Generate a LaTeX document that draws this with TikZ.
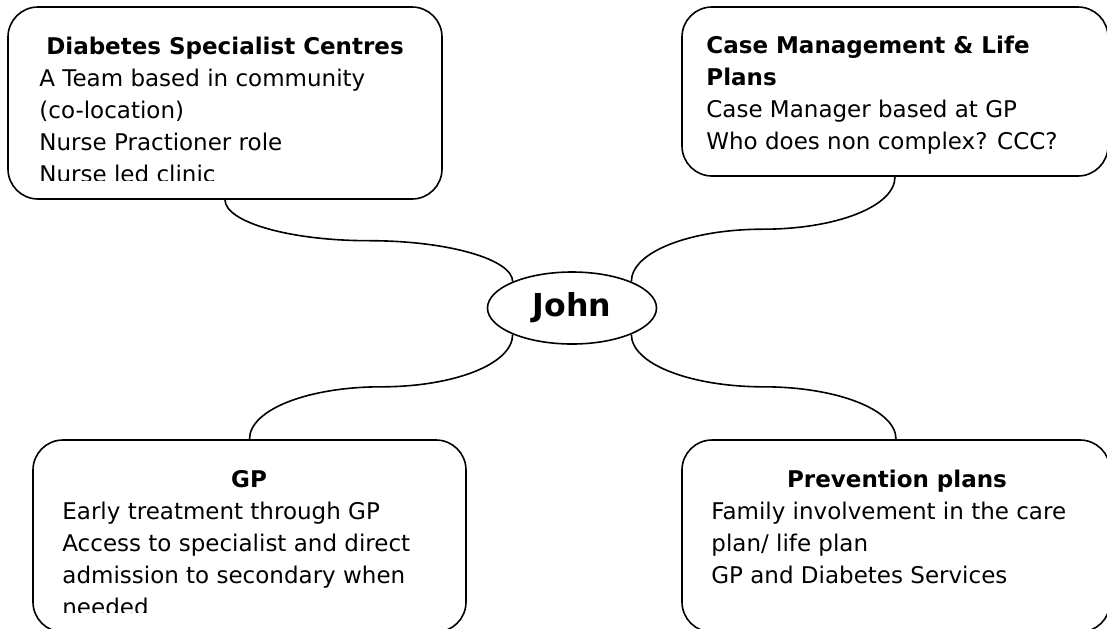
\documentclass[tikz,border=0pt]{standalone}
\usepackage{fontspec}
\setmainfont{DejaVu Sans}
\usetikzlibrary{shapes.geometric,calc}

\begin{document}
\begin{tikzpicture}[
        x=0.5pt, y=-0.5pt,
        boxsty/.style={rectangle,draw,rounded corners=15pt,line width=0.8pt,inner sep=0pt},
        hdsty/.style={font=\fontsize{11.5}{16}\selectfont\bfseries,inner sep=0pt},
        txtsty/.style={font=\fontsize{11.5}{16}\selectfont,align=left,inner sep=0pt,anchor=north west},
        lnsty/.style={line width=0.8pt},
    ]
    \useasboundingbox (0,0) rectangle (1107,628);
    \clip (0,0) rectangle (1107,628);

    % boxes round the middle
    \node (dsc) at (225,103) [boxsty, minimum width=217pt, minimum height=96pt] {};
    \node (cm) at (895,91.5) [boxsty, minimum width=213pt, minimum height=84.5pt] {};
    \node (gp) at (249.5,536) [boxsty, minimum width=216.5pt, minimum height=96pt] {};
    \node (prev) at (896,536) [boxsty, minimum width=214pt, minimum height=96pt] {};
    \node (john) at (572,308) [ellipse, draw, line width=0.8pt, inner sep=0pt,
        minimum width=84.5pt, minimum height=36pt,
        font=\fontsize{15.8}{19}\selectfont\bfseries] {John};

    % box texts
    \node (dsc-hd) at (225,54) [hdsty, anchor=base] {Diabetes Specialist Centres};
    \begin{scope}
        \clip (0,0) rectangle (1107,180);
        \node (dsc-txt) at (39,63.6) [txtsty] {\strut A Team based in community\\(co-location)\\Nurse Practioner role\\Nurse led clinic};
    \end{scope}
    \node (cm-hd) at (706,30.6) [txtsty, font=\fontsize{11.5}{16}\selectfont\bfseries] {\strut Case Management \& Life\\Plans};
    \node (cm-txt) at (706,94.6) [txtsty] {\strut Case Manager based at GP\\Who does non complex? CCC?};
    \node (gp-hd) at (249,487) [hdsty, anchor=base] {GP};
    \begin{scope}
        \clip (0,0) rectangle (1107,612);
        \node (gp-txt) at (62,496.6) [txtsty] {\strut Early treatment through GP\\Access to specialist and direct\\admission to secondary when\\needed};
    \end{scope}
    \node (prev-hd) at (897,487) [hdsty, anchor=base] {Prevention plans};
    \node (prev-txt) at (711,496.6) [txtsty] {\strut Family involvement in the care\\plan/ life plan\\GP and Diabetes Services};

    % curved links to the middle
    \draw[lnsty] (dsc.south)
        to[out=-90,in=180,out distance=11pt,in distance=40pt] ($(dsc.south)!0.5!(john.156)$)
        to[out=0,in=90,out distance=40pt,in distance=11pt] (john.156);
    \draw[lnsty] (john.24)
        to[out=90,in=180,out distance=15pt,in distance=36pt] ($(john.24)!0.5!(cm.south)$)
        to[out=0,in=-90,out distance=36pt,in distance=15pt] (cm.south);
    \draw[lnsty] (john.204)
        to[out=-90,in=0,out distance=15pt,in distance=36pt] ($(john.204)!0.5!(gp.north)$)
        to[out=180,in=90,out distance=36pt,in distance=15pt] (gp.north);
    \draw[lnsty] (john.336)
        to[out=-90,in=180,out distance=15pt,in distance=36pt] ($(john.336)!0.5!(prev.north)$)
        to[out=0,in=90,out distance=36pt,in distance=15pt] (prev.north);
\end{tikzpicture}
\end{document}
